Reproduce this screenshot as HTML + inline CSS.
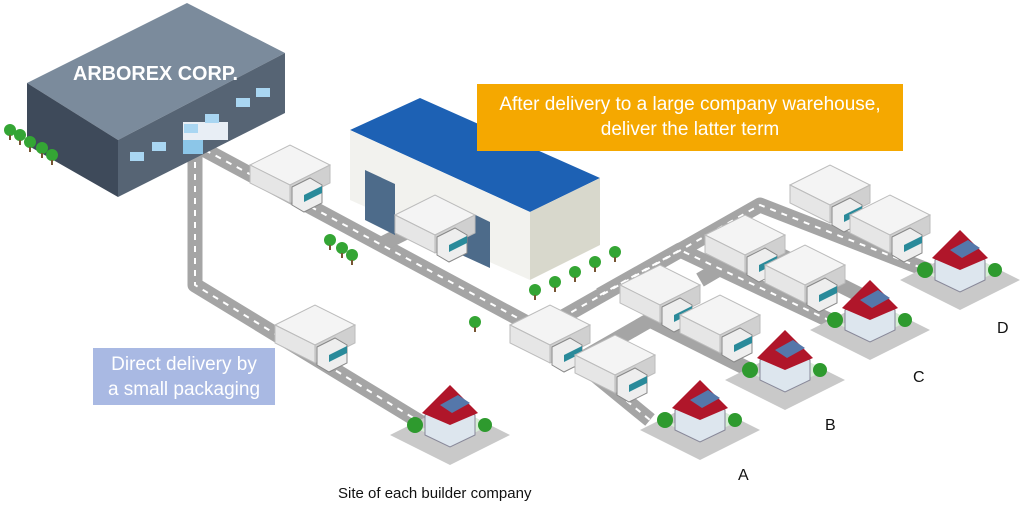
<!DOCTYPE html>
<html><head><meta charset="utf-8"><style>
body{margin:0;background:#fff;width:1032px;height:509px;overflow:hidden;font-family:"Liberation Sans",sans-serif}
.box{position:absolute;color:#fff;text-align:center;font-size:19px;line-height:25px}
</style></head><body>
<svg width="1032" height="509" style="position:absolute;left:0;top:0">
<defs>
<g id="truck">
<polygon points="0,0 40,-20 80,0 40,20" fill="#f4f4f4" stroke="#bbb"/>
<polygon points="0,0 40,20 40,38 0,18" fill="#e6e6e6" stroke="#bbb"/>
<polygon points="40,20 80,0 80,18 40,38" fill="#d0d0d0" stroke="#bbb"/>
<polygon points="42,22 60,13 72,20 72,38 54,47 42,40" fill="#eee" stroke="#888"/>
<polygon points="54,30 72,21 72,28 54,37" fill="#2a8a9a"/>
</g>
<g id="house">
<polygon points="-60,10 0,-20 60,10 0,40" fill="#c9c9c9"/>
<polygon points="-30,5 10,-15 40,0 0,20" fill="#d8ecd8"/>
<polygon points="-25,-10 0,-22 25,-10 25,10 0,22 -25,10" fill="#dde6ee" stroke="#889"/>
<polygon points="-28,-12 0,-40 28,-12 0,0" fill="#b0162a"/>
<polygon points="-10,-20 8,-30 20,-22 2,-12" fill="#5577aa"/>
<circle cx="-35" cy="0" r="8" fill="#2e9a2e"/><circle cx="35" cy="0" r="7" fill="#2e9a2e"/>
</g>
<g id="tree"><circle r="6" fill="#34a534"/><rect x="-1" y="5" width="2" height="5" fill="#753"/></g>
</defs>
<g stroke="#a5a5a5" stroke-width="15" fill="none" stroke-linejoin="round">
<polyline points="195,150 195,285 425,425"/>
<polyline points="205,150 540,330 650,420"/>
<polyline points="540,330 760,205 940,275"/>
<polyline points="600,295 680,250 850,330"/>
<polyline points="580,360 650,320 780,385"/>
<polyline points="700,280 760,245 880,305"/>
<polyline points="380,245 420,225"/>
</g>
<g stroke="#fff" stroke-width="2" stroke-dasharray="6,6" fill="none">
<polyline points="195,150 195,285 425,425"/>
<polyline points="205,150 540,330 650,420"/>
<polyline points="540,330 760,205 940,275"/>
<polyline points="600,295 680,250 850,330"/>
</g>
<!-- factory -->
<polygon points="27,83 187,3 285,53 118,140" fill="#7b8b9c"/>
<polygon points="27,83 118,140 118,197 27,145" fill="#3e4a5a"/>
<polygon points="118,140 285,53 285,113 118,197" fill="#566474"/>
<rect x="183" y="122" width="45" height="18" fill="#e8eef5"/>
<rect x="183" y="140" width="20" height="14" fill="#8cc6e8"/>
<g fill="#a9d6f2"><rect x="130" y="152" width="14" height="9"/><rect x="152" y="142" width="14" height="9"/><rect x="184" y="124" width="14" height="9"/><rect x="205" y="114" width="14" height="9"/><rect x="236" y="98" width="14" height="9"/><rect x="256" y="88" width="14" height="9"/></g>
<text x="73" y="80" fill="#fff" font-size="20" font-weight="bold" textLength="165" lengthAdjust="spacingAndGlyphs">ARBOREX CORP.</text>
<!-- warehouse -->
<polygon points="350,130 420,98 600,178 530,212" fill="#1d61b4"/>
<polygon points="350,130 530,212 530,280 350,200" fill="#f2f2ee"/>
<polygon points="530,212 600,178 600,245 530,280" fill="#d8d8cc"/>
<polygon points="365,170 395,184 395,235 365,220" fill="#4d6b8a"/>
<polygon points="455,205 490,222 490,268 455,252" fill="#4d6b8a"/>
<g>
<use href="#tree" x="10" y="130"/><use href="#tree" x="20" y="135"/><use href="#tree" x="30" y="142"/><use href="#tree" x="42" y="148"/><use href="#tree" x="52" y="155"/>
<use href="#tree" x="330" y="240"/><use href="#tree" x="342" y="248"/><use href="#tree" x="352" y="255"/>
<use href="#tree" x="535" y="290"/><use href="#tree" x="555" y="282"/><use href="#tree" x="575" y="272"/><use href="#tree" x="595" y="262"/><use href="#tree" x="615" y="252"/>
<use href="#tree" x="475" y="322"/>
</g>
<use href="#truck" x="250" y="165"/>
<use href="#truck" x="395" y="215"/>
<use href="#truck" x="275" y="325"/>
<use href="#truck" x="510" y="325"/>
<use href="#truck" x="575" y="355"/>
<use href="#truck" x="620" y="285"/>
<use href="#truck" x="680" y="315"/>
<use href="#truck" x="705" y="235"/>
<use href="#truck" x="765" y="265"/>
<use href="#truck" x="790" y="185"/>
<use href="#truck" x="850" y="215"/>
<use href="#house" x="450" y="425"/>
<use href="#house" x="700" y="420"/>
<use href="#house" x="785" y="370"/>
<use href="#house" x="870" y="320"/>
<use href="#house" x="960" y="270"/>
<g font-size="16" fill="#111">
<text x="738" y="480">A</text><text x="825" y="430">B</text><text x="913" y="382">C</text><text x="997" y="333">D</text>
<text x="338" y="498" font-size="15">Site of each builder company</text>
</g>
</svg>
<div class="box" style="left:477px;top:84px;width:426px;height:67px;background:#f5a800;padding-top:8px;box-sizing:border-box">After delivery to a large company warehouse,<br>deliver the latter term</div>
<div class="box" style="left:93px;top:348px;width:182px;height:57px;background:#a9b9e3;padding-top:4px;box-sizing:border-box">Direct delivery by<br>a small packaging</div>
</body></html>
